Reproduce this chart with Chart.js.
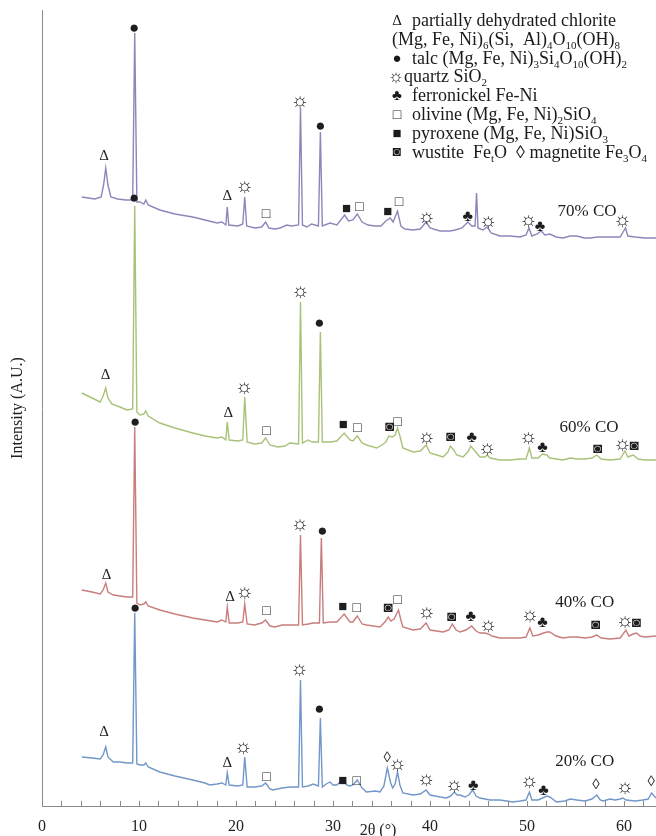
<!DOCTYPE html>
<html>
<head>
<meta charset="utf-8">
<script src="https://cdn.jsdelivr.net/npm/chart.js@4/dist/chart.umd.min.js"></script>
<style>
  html, body { margin: 0; padding: 0; background: #fff; }
  #wrap { width: 656px; height: 836px; }
</style>
</head>
<body>
<div id="wrap"><canvas id="xrd" width="656" height="836"></canvas></div>
<script>
// XRD patterns: [2θ (°), intensity (a.u., stacked)]
const pattern70 = [[4.1,609],[5.45,607],[6.1,609],[6.35,621],[6.57,638],[6.8,621],[7.1,609],[7.8,607],[8.65,606],[9.35,606],[9.56,773],[9.78,604],[10.1,604],[10.5,602],[10.7,606],[10.95,601],[12.15,596],[13.7,592],[15.55,589],[16.8,586],[18.05,583],[18.55,584],[18.95,581],[19.1,599],[19.25,581],[20.2,580],[20.7,582],[20.9,609],[21.1,580],[21.95,578],[22.65,579],[23.05,584],[23.4,578],[24.0,577],[24.55,578],[25.25,581],[25.7,580],[26.45,581],[26.65,698],[26.85,581],[27.3,579],[27.8,582],[28.5,580],[28.7,674],[28.9,580],[29.7,583],[30.4,581],[30.8,586],[31.2,591],[31.6,585],[32.05,586],[32.5,592],[33.0,584],[33.6,581],[34.35,580],[34.95,580],[35.45,585],[35.9,588],[36.2,584],[36.65,595],[37.0,580],[37.4,577],[38.25,576],[39.0,577],[39.6,584],[40.0,578],[41.05,575],[42.05,575],[42.6,576],[43.3,578],[43.9,584],[44.3,580],[44.65,580],[44.8,613],[44.95,578],[45.45,576],[45.9,579],[46.3,573],[47.2,570],[48.25,570],[49.3,569],[49.9,571],[50.2,578],[50.5,570],[51.05,572],[51.45,575],[51.85,571],[52.35,572],[53.0,569],[53.7,568],[54.45,570],[55.15,570],[55.9,568],[56.5,568],[57.3,569],[58.55,569],[59.6,569],[60.15,578],[60.4,570],[61.15,569],[62.15,568],[63.3,568]];

const pattern60 = [[4.1,413],[5.15,408],[6.0,404],[6.3,410],[6.57,418],[6.8,408],[7.2,402],[8.05,399],[8.75,396],[9.35,397],[9.56,600],[9.78,394],[10.1,391],[10.5,392],[10.7,395],[10.95,390],[12.15,383],[13.7,378],[15.55,373],[16.8,370],[18.05,368],[18.55,369],[18.95,366],[19.1,384],[19.3,366],[20.2,365],[20.7,366],[20.9,409],[21.15,364],[21.9,362],[22.65,363],[23.05,368],[23.5,361],[24.3,359],[25.05,360],[25.55,363],[26.45,362],[26.65,504],[26.85,363],[27.45,366],[27.85,364],[28.5,364],[28.7,474],[28.9,364],[29.7,364],[30.4,365],[31.15,373],[31.75,366],[32.05,365],[32.5,370],[33.0,363],[33.45,361],[34.5,358],[35.05,361],[35.45,364],[35.75,370],[36.1,369],[36.4,371],[36.65,378],[36.9,370],[37.2,358],[38.25,354],[39.0,355],[39.6,361],[40.0,353],[40.7,351],[41.35,349],[41.85,354],[42.1,360],[42.45,356],[42.75,351],[43.4,349],[43.9,354],[44.2,360],[44.55,356],[45.15,349],[45.65,349],[45.9,351],[46.2,348],[47.2,346],[48.25,346],[49.3,347],[49.9,347],[50.25,358],[50.5,348],[51.15,348],[51.6,352],[52.05,351],[52.35,348],[53.7,346],[54.45,348],[55.15,347],[56.0,347],[56.7,348],[57.2,351],[57.65,347],[58.55,346],[59.6,347],[60.1,355],[60.4,349],[60.95,351],[61.45,347],[62.15,346],[63.3,346]];

const pattern40 = [[4.1,216],[5.15,214],[6.0,212],[6.3,216],[6.57,223],[6.8,214],[7.35,211],[8.05,210],[8.75,209],[9.35,209],[9.56,379],[9.78,203],[10.1,201],[10.5,202],[10.7,204],[10.95,200],[12.15,196],[13.7,192],[15.55,188],[16.8,186],[18.05,184],[18.55,186],[18.95,184],[19.1,199],[19.3,183],[20.2,183],[20.7,184],[20.9,202],[21.15,182],[21.9,181],[22.65,183],[23.05,186],[23.5,180],[24.0,179],[24.75,181],[25.55,181],[26.45,181],[26.65,271],[26.85,181],[27.45,182],[27.95,183],[28.6,183],[28.8,268],[29.0,183],[29.7,184],[30.4,184],[31.15,192],[31.75,184],[32.05,184],[32.5,190],[33.0,182],[33.45,181],[34.85,179],[35.35,184],[35.7,189],[35.95,185],[36.3,187],[36.75,196],[37.0,186],[37.2,179],[38.25,176],[39.0,177],[39.6,183],[40.0,176],[41.35,174],[41.95,176],[42.3,182],[42.7,176],[43.1,174],[43.7,176],[44.3,180],[44.75,175],[45.15,173],[45.65,173],[46.0,172],[46.4,170],[47.2,168],[48.25,168],[49.3,168],[49.9,169],[50.3,178],[50.6,170],[51.15,171],[51.7,173],[52.05,174],[52.35,174],[53.0,170],[53.7,168],[54.45,169],[55.15,169],[56.0,168],[56.7,169],[57.2,171],[57.65,168],[58.55,167],[59.6,168],[60.2,176],[60.5,170],[60.95,172],[61.3,173],[61.65,170],[62.15,169],[63.3,170]];

const pattern20 = [[4.1,49],[5.15,48],[6.0,47],[6.3,51],[6.57,59],[6.8,49],[7.35,44],[8.05,44],[8.75,43],[9.35,43],[9.56,193],[9.78,42],[10.1,41],[10.5,41],[10.7,43],[10.95,39],[12.15,34],[13.7,30],[15.55,26],[16.8,23],[17.3,21],[18.05,22],[18.55,23],[18.95,21],[19.1,33],[19.3,21],[20.2,20],[20.7,21],[20.9,49],[21.15,19],[21.9,19],[22.65,20],[23.05,23],[23.5,17],[23.8,16],[24.75,18],[25.55,19],[26.45,19],[26.65,126],[26.85,19],[27.45,20],[27.95,22],[28.5,20],[28.7,88],[28.9,19],[29.3,22],[29.7,24],[30.0,21],[30.4,21],[30.7,24],[31.05,27],[31.4,21],[31.75,20],[32.05,21],[32.5,26],[33.0,18],[33.45,14],[34.35,15],[34.85,14],[35.25,20],[35.6,38],[35.95,23],[36.15,18],[36.4,22],[36.65,34],[36.9,21],[37.2,13],[38.25,11],[39.0,12],[39.6,16],[40.0,11],[41.05,9],[41.7,8],[42.15,10],[42.5,14],[42.8,11],[43.1,11],[43.6,9],[44.0,11],[44.4,16],[44.75,10],[45.15,8],[46.2,6],[47.2,6],[48.55,4],[49.3,5],[49.9,6],[50.25,14],[50.5,6],[51.15,6],[51.6,8],[52.05,10],[52.35,9],[53.05,4],[53.9,5],[54.45,7],[55.15,6],[56.0,5],[56.7,7],[57.2,11],[57.55,6],[57.85,5],[58.55,7],[59.1,6],[59.6,7],[59.9,8],[60.2,6],[61.15,5],[61.95,6],[62.5,7],[62.85,13],[63.3,8]];

// Phase identification marks: [2θ, intensity level, phase symbol]
const phases70 = [[6.4,650,'Δ'],[9.5,777,'●'],[19.1,610,'Δ'],[20.9,619,'☼'],[23.1,592,'□'],[26.6,704,'☼'],[28.7,679,'●'],[31.4,597,'■'],[32.7,599,'□'],[35.65,594,'■'],[36.8,604,'□'],[39.65,588,'☼'],[43.9,589,'♣'],[46.0,584,'☼'],[50.15,585,'☼'],[51.35,579,'♣'],[59.85,585,'☼']];
const phases60 = [[6.55,431,'Δ'],[9.5,607,'●'],[19.2,393,'Δ'],[20.85,418,'☼'],[23.15,375,'□'],[26.65,514,'☼'],[28.6,482,'●'],[31.05,381,'■'],[32.5,378,'□'],[35.85,379,'◙'],[36.65,384,'□'],[39.65,368,'☼'],[42.15,369,'◙'],[44.3,368,'♣'],[45.9,357,'☼'],[50.15,368,'☼'],[51.6,358,'♣'],[57.3,357,'◙'],[59.85,361,'☼'],[61.05,360,'◙']];
const phases40 = [[6.65,231,'Δ'],[9.6,383,'●'],[19.4,209,'Δ'],[20.9,213,'☼'],[23.15,195,'□'],[26.6,281,'☼'],[28.9,274,'●'],[31.0,199,'■'],[32.45,198,'□'],[35.7,198,'◙'],[36.65,206,'□'],[39.65,193,'☼'],[42.25,189,'◙'],[44.2,189,'♣'],[46.0,180,'☼'],[50.3,190,'☼'],[51.6,183,'♣'],[57.1,181,'◙'],[60.1,184,'☼'],[61.3,183,'◙']];
const phases20 = [[6.4,74,'Δ'],[9.6,197,'●'],[19.1,43,'Δ'],[20.75,58,'☼'],[23.15,29,'□'],[26.55,136,'☼'],[28.6,96,'●'],[31.0,25,'■'],[32.45,25,'□'],[35.6,48,'◊'],[36.65,41,'☼'],[39.6,26,'☼'],[42.5,20,'☼'],[44.45,20,'♣'],[50.25,24,'☼'],[51.7,15,'♣'],[57.1,21,'◊'],[60.1,18,'☼'],[62.8,24,'◊']];

const seriesNames = ['70% CO', '60% CO', '40% CO', '20% CO'];
// where each curve's name is written: [2θ, intensity level]
const seriesNameAt = [[56.2,594],[56.4,378],[55.95,203],[55.95,44]];

const xTickValues = [0, 10, 20, 30, 40, 50, 60];
const xTitle = '2θ (°)';
const yTitle = 'Intensity (A.U.)';

// Phase key; "_{…}" marks a subscript
const keySymbols = ['Δ', '', '●', '☼', '♣', '□', '■', '◙'];
const keyTexts = [
  'partially dehydrated chlorite',
  '(Mg, Fe, Ni)_{6}(Si,  Al)_{4}O_{10}(OH)_{8}',
  'talc (Mg, Fe, Ni)_{3}Si_{4}O_{10}(OH)_{2}',
  'quartz SiO_{2}',
  'ferronickel Fe-Ni',
  'olivine (Mg, Fe, Ni)_{2}SiO_{4}',
  'pyroxene (Mg, Fe, Ni)SiO_{3}',
  'wustite  Fe_{t}O  ◊ magnetite Fe_{3}O_{4}'
];

const SERIF = '"Liberation Serif", "Times New Roman", serif';
const lineColors = ['#8d86ba', '#a9c27a', '#c97d7d', '#7297c8'];
const patterns = [pattern70, pattern60, pattern40, pattern20];
const phaseSets = [phases70, phases60, phases40, phases20];

const symbolSize = { 'Δ': 15, '●': 17, '☼': 20, '□': 14, '■': 15, '♣': 16, '◙': 15, '◊': 15 };
const keySymbolSize = { 'Δ': 15, '●': 15, '☼': 18, '□': 14, '■': 15, '♣': 15, '◙': 14 };

function drawRich(ctx, text, x, y, size) {
  const parts = text.split(/(_\{[^}]*\})/);
  let cx = x;
  ctx.textAlign = 'left';
  ctx.textBaseline = 'alphabetic';
  for (const part of parts) {
    if (!part) continue;
    const sub = part.match(/^_\{([^}]*)\}$/);
    if (sub) {
      ctx.font = `${Math.round(size * 0.62)}px ${SERIF}`;
      ctx.fillText(sub[1], cx, y + size * 0.22);
      cx += ctx.measureText(sub[1]).width;
    } else {
      ctx.font = `${size}px ${SERIF}`;
      ctx.fillText(part, cx, y);
      cx += ctx.measureText(part).width;
    }
  }
}

const decor = {
  id: 'xrdDecor',
  beforeDraw(chart) {
    const c = chart.ctx;
    c.save();
    c.fillStyle = '#fff';
    c.fillRect(0, 0, chart.width, chart.height);
    c.restore();
  },
  afterDraw(chart) {
    const c = chart.ctx;
    const xs = chart.scales.x, ys = chart.scales.y;
    const area = chart.chartArea;
    c.save();

    // minor tick marks every 2°, pointing into the plot
    c.strokeStyle = '#8a8a8a';
    c.lineWidth = 1;
    c.beginPath();
    for (let t = 0; t <= xs.max; t += 2) {
      const px = Math.round(xs.getPixelForValue(t)) + 0.5;
      c.moveTo(px, area.bottom);
      c.lineTo(px, area.bottom - 5);
    }
    c.stroke();

    // phase symbols above the reflections
    c.fillStyle = '#1e1e1e';
    c.textAlign = 'center';
    c.textBaseline = 'middle';
    phaseSets.forEach(set => {
      set.forEach(([t, v, s]) => {
        c.font = `${symbolSize[s] || 14}px ${SERIF}`;
        c.fillText(s, xs.getPixelForValue(t), ys.getPixelForValue(v));
      });
    });

    // curve names
    c.font = `17px ${SERIF}`;
    seriesNames.forEach((name, i) => {
      const [t, v] = seriesNameAt[i];
      c.fillText(name, xs.getPixelForValue(t), ys.getPixelForValue(v));
    });

    // phase key
    c.fillStyle = '#1a1a1a';
    const rowTop = 26, rowStep = 18.8;
    keyTexts.forEach((txt, i) => {
      const base = rowTop + i * rowStep;
      const sym = keySymbols[i];
      let tx = 412;
      if (i === 1) tx = 392;
      if (i === 3) tx = 404;
      if (sym) {
        c.font = `${keySymbolSize[sym]}px ${SERIF}`;
        c.textAlign = 'center';
        c.textBaseline = 'middle';
        c.fillText(sym, i === 3 ? 396 : 397, base - 5);
      }
      drawRich(c, txt, tx, base, 18);
    });

    // axis titles
    c.fillStyle = '#222';
    c.font = `16px ${SERIF}`;
    c.textAlign = 'center';
    c.textBaseline = 'middle';
    c.fillText(xTitle, 378, 831);
    c.translate(18, (area.top + area.bottom) / 2);
    c.rotate(-Math.PI / 2);
    c.fillText(yTitle, 0, 0);
    c.restore();
  }
};

new Chart(document.getElementById('xrd'), {
  type: 'scatter',
  data: {
    datasets: patterns.map((p, i) => ({
      label: seriesNames[i],
      data: p.map(([x, y]) => ({ x, y })),
      showLine: true,
      borderColor: lineColors[i],
      borderWidth: 1.4,
      pointRadius: 0,
      tension: 0,
      fill: false
    }))
  },
  options: {
    responsive: false,
    animation: false,
    devicePixelRatio: 1,
    layout: { padding: { top: 10, left: 0, right: 0, bottom: 0 } },
    plugins: { legend: { display: false }, tooltip: { enabled: false } },
    scales: {
      x: {
        type: 'linear',
        min: 0,
        max: 63.3,
        afterFit(s) { s.height = 30; },
        afterBuildTicks(s) { s.ticks = xTickValues.map(v => ({ value: v })); },
        grid: { display: false },
        border: { display: true, color: '#8a8a8a', width: 1 },
        ticks: {
          padding: 3,
          autoSkip: false,
          maxRotation: 0,
          color: '#222',
          font: { family: SERIF, size: 16 }
        }
      },
      y: {
        min: 0,
        max: 796,
        afterFit(s) { s.width = 42; },
        grid: { display: false },
        border: { display: true, color: '#8a8a8a', width: 1 },
        ticks: { display: false }
      }
    }
  },
  plugins: [decor]
});
</script>
</body>
</html>
